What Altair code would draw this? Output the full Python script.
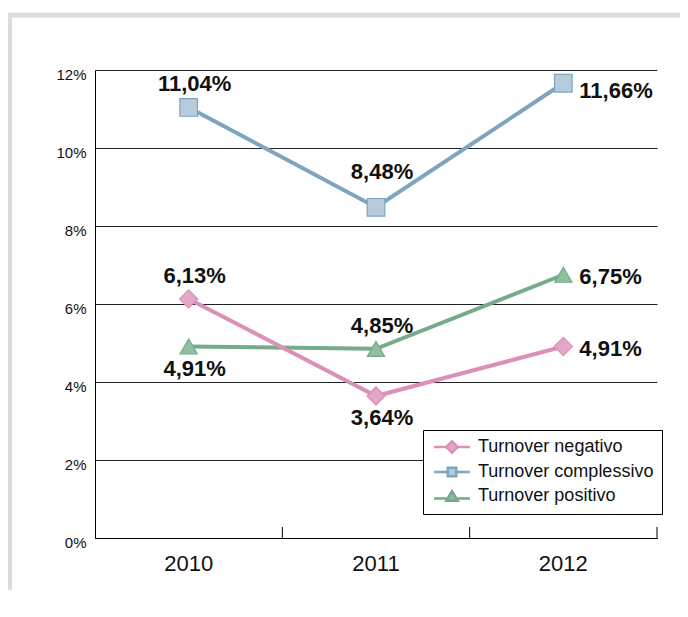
import altair as alt
import pandas as pd

years = ["2010", "2011", "2012"]
series = ["Turnover negativo", "Turnover complessivo", "Turnover positivo"]
negativo = [6.13, 3.64, 4.91]
complessivo = [11.04, 8.48, 11.66]
positivo = [4.91, 4.85, 6.75]
placement_neg = ["above", "below", "right"]
placement_com = ["above", "above_far", "right_low"]
placement_pos = ["below", "above", "right"]
y_ticks = [0, 2, 4, 6, 8, 10, 12]

line_colors = ["#DB90B6", "#7EA5BF", "#76AB8A"]
fill_colors = ["#E3A6C6", "#B6CCDD", "#8FBF9F"]
marker_shapes = ["diamond", "square", "triangle-up"]
marker_sizes = [330, 310, 300]
legend_shapes = [
    "M-3.0,0L-0.95,0M0.95,0L3.0,0M0,-0.95L0.95,0L0,0.95L-0.95,0Z",
    "M-3.0,0L-0.7,0M0.7,0L3.0,0M-0.7,-0.7L0.7,-0.7L0.7,0.7L-0.7,0.7Z",
    "M-3.0,0.4L-0.75,0.4M0.75,0.4L3.0,0.4M0,-0.8L0.95,0.8L-0.95,0.8Z",
]

rows = []
for s, vals, pl in zip(series, [negativo, complessivo, positivo],
                       [placement_neg, placement_com, placement_pos]):
    for yr, v, p in zip(years, vals, pl):
        rows.append({"series": s, "year": yr, "value": v,
                     "label": f"{v:.2f}".replace(".", ",") + "%", "place": p})
df = pd.DataFrame(rows)

W, H = 562, 468
FONT = "Liberation Sans"

xscale = alt.Scale(type="band", domain=years, paddingInner=0, paddingOuter=0)
yscale = alt.Scale(domain=[0, 12], nice=False)

X = alt.X("year:N", scale=xscale, title=None,
          axis=alt.Axis(labelAngle=0, ticks=False, tickSize=0, labelFontSize=22,
                        labelPadding=15, labelColor="#111", domainColor="#000",
                        domainWidth=1, grid=False, labelFont=FONT))
Y = alt.Y("value:Q", scale=yscale, title=None,
          axis=alt.Axis(values=y_ticks, labelExpr="datum.value + '%'", ticks=False,
                        tickSize=0, labelFontSize=15, labelPadding=9, labelOffset=4,
                        labelColor="#111", labelFont=FONT, domainColor="#000",
                        domainWidth=1, grid=True, gridColor="#222", gridWidth=1))

layers = []

# page frame decoration
layers.append(alt.Chart().mark_rule(color="#DCDCE0", strokeWidth=5).encode(
    x=alt.value(-87), x2=alt.value(600), y=alt.value(-55)))
layers.append(alt.Chart().mark_rule(color="#DCDCE0", strokeWidth=4).encode(
    x=alt.value(-85), y=alt.value(-57), y2=alt.value(520)))

base = alt.Chart(df)
layers.append(base.mark_line(opacity=0).encode(x=X, y=Y))

for i in [2, 0, 1]:
    s = series[i]
    sub = base.transform_filter(alt.datum.series == s)
    layers.append(sub.mark_line(color=line_colors[i], strokeWidth=4).encode(x=X, y=Y))
    layers.append(sub.mark_point(shape=marker_shapes[i], filled=True, fill=fill_colors[i],
                                 stroke=line_colors[i], strokeWidth=1.2, opacity=1,
                                 size=marker_sizes[i]).encode(x=X, y=Y))

# x-axis tick marks at category boundaries (pointing up)
tick_df = pd.DataFrame({"year": years})
layers.append(alt.Chart(tick_df).transform_filter(alt.datum.year != years[0]).mark_rule(
    color="#000", strokeWidth=1).encode(
    x=alt.X("year:N", scale=xscale, bandPosition=0), y=alt.value(H - 11), y2=alt.value(H)))
layers.append(alt.Chart(tick_df).transform_filter(alt.datum.year == years[-1]).mark_rule(
    color="#000", strokeWidth=1).encode(
    x=alt.X("year:N", scale=xscale, bandPosition=1), y=alt.value(H - 11), y2=alt.value(H)))

place_style = {
    "above": dict(dx=6, dy=-23, align="center"),
    "above_far": dict(dx=6, dy=-35, align="center"),
    "below": dict(dx=6, dy=22, align="center"),
    "right": dict(dx=16, dy=2, align="left"),
    "right_low": dict(dx=16, dy=8, align="left"),
}
for p, st in place_style.items():
    layers.append(base.transform_filter(alt.datum.place == p).mark_text(
        font=FONT, fontSize=22, fontWeight="bold", color="#111", baseline="middle", **st
    ).encode(x=X, y=Y, text="label:N"))

leg = alt.Legend(orient="none", legendX=328, legendY=360, title=None, fillColor="white",
                 strokeColor="black", padding=8, symbolSize=144, symbolStrokeWidth=2.5,
                 symbolOffset=12, labelOffset=17, labelFontSize=18, labelFont=FONT,
                 labelColor="#111", rowPadding=4, labelLimit=300, symbolOpacity=1)
layers.append(base.transform_filter("false").mark_point(filled=True, strokeWidth=2.5, size=144).encode(
    x=X, y=Y,
    shape=alt.Shape("series:N", scale=alt.Scale(domain=series, range=legend_shapes), legend=leg),
    fill=alt.Fill("series:N", scale=alt.Scale(domain=series, range=fill_colors), legend=leg),
    stroke=alt.Stroke("series:N", scale=alt.Scale(domain=series, range=line_colors), legend=leg),
))

chart = alt.layer(*layers).properties(
    width=W, height=H,
    autosize=alt.AutoSizeParams(type="none"),
    padding={"left": 87, "top": 62, "right": 23, "bottom": 60},
    background="white",
).configure_view(stroke="transparent")

chart.save("out.html", embed_options={"renderer": "svg", "actions": False})
